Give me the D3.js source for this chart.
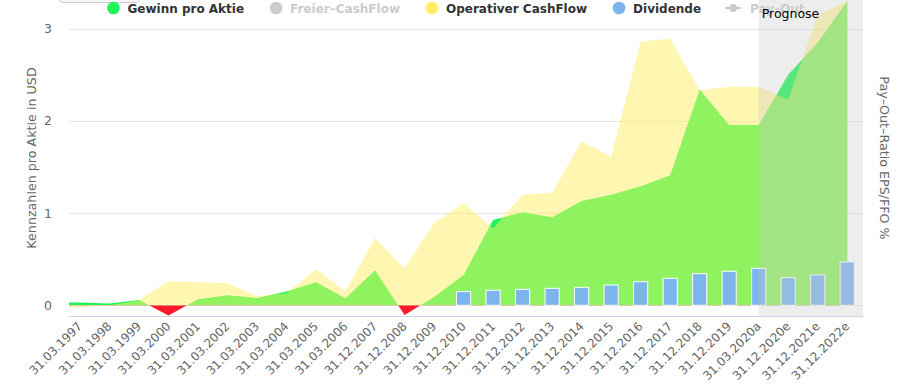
<!DOCTYPE html>
<html>
<head>
<meta charset="utf-8">
<script src="https://cdn.jsdelivr.net/npm/d3@7"></script>
<style>
  body { margin: 0; background: #fff; }
  text { font-family: "DejaVu Sans", sans-serif; }
</style>
</head>
<body>
<div id="chart"></div>
<script>
//categories of the x axis
var categories = [
  "31.03.1997", "31.03.1998", "31.03.1999", "31.03.2000", "31.03.2001",
  "31.03.2002", "31.03.2003", "31.03.2004", "31.03.2005", "31.03.2006",
  "31.12.2007", "31.12.2008", "31.12.2009", "31.12.2010", "31.12.2011",
  "31.12.2012", "31.12.2013", "31.12.2014", "31.12.2015", "31.12.2016",
  "31.12.2017", "31.12.2018", "31.12.2019", "31.03.2020a", "31.12.2020e",
  "31.12.2021e", "31.12.2022e"
];

//Gewinn pro Aktie
var eps = [
  0.03, 0.02, 0.057, -0.11, 0.065, 0.11, 0.08, 0.15, 0.25, 0.076,
  0.38, -0.105, 0.09, 0.33, 0.925, 1.01, 0.955, 1.13, 1.2, 1.29,
  1.41, 2.34, 1.955, 1.955, 2.5, 2.85, 3.3
];

//Operativer CashFlow
var ocf = [
  -0.02, 0.0, 0.055, 0.26, 0.25, 0.24, 0.1, 0.13, 0.39, 0.15,
  0.73, 0.4, 0.89, 1.11, 0.835, 1.2, 1.22, 1.78, 1.61, 2.86,
  2.89, 2.33, 2.37, 2.37, 2.23, 3.15, 3.3
];

//Dividende
var dividend = [
  null, null, null, null, null, null, null, null, null, null,
  null, null, null, 0.148, 0.163, 0.173, 0.184, 0.195, 0.22, 0.256,
  0.293, 0.343, 0.369, 0.4, 0.3, 0.33, 0.47
];

var yTicks = [0, 1, 2, 3];

//legend entries
var legendNames = ["Gewinn pro Aktie", "Freier\u2013CashFlow", "Operativer CashFlow", "Dividende", "Pay\u2013Out"];
var legendHidden = [false, true, false, false, true];

//first forecast category
var forecastStart = "31.03.2020a";

//colours
var colGreen = "rgb(30,245,90)";
var colRed = "#ff1a2b";
var colYellow = "rgb(255,239,99)";
var colBlue = "#7cb5ec";
var legendColors = [colGreen, "#cccccc", "#ffec62", colBlue, "#cccccc"];

var width = 912;
var height = 386;
var plot = { left: 69, right: 863, top: 0, bottom: 316 };

var svg = d3
  .select("#chart")
  .append("svg")
  .attr("width", width)
  .attr("height", height);

//x axis: category index, small padding left of first point
var xMin = -0.37;
var xMax = categories.length - 0.5;
var xScale = d3.scaleLinear().domain([xMin, xMax]).range([plot.left, plot.right - 1]);
var step = xScale(1) - xScale(0);

var yScale = d3.scaleLinear().domain([-0.116, 3.311]).range([plot.bottom, plot.top]);

var defs = svg.append("defs");
defs.append("clipPath").attr("id", "clipPlot").append("rect")
  .attr("x", plot.left).attr("y", plot.top)
  .attr("width", plot.right - plot.left).attr("height", plot.bottom - plot.top);
defs.append("clipPath").attr("id", "clipPos").append("rect")
  .attr("x", plot.left).attr("y", plot.top)
  .attr("width", plot.right - plot.left).attr("height", yScale(0) - plot.top);
defs.append("clipPath").attr("id", "clipNeg").append("rect")
  .attr("x", plot.left).attr("y", yScale(0))
  .attr("width", plot.right - plot.left).attr("height", plot.bottom - yScale(0));

//little button box peeking in at the top
svg.append("rect")
  .attr("x", 59.5).attr("y", -8.5)
  .attr("width", 80).attr("height", 11).attr("rx", 3)
  .attr("fill", "#f7f7f7").attr("stroke", "#cccccc");

//grid lines
svg.selectAll(".grid")
  .data(yTicks)
  .enter()
  .append("line")
  .attr("class", "grid")
  .attr("x1", plot.left).attr("x2", plot.right)
  .attr("y1", function(d) { return Math.round(yScale(d)) + 0.5; })
  .attr("y2", function(d) { return Math.round(yScale(d)) + 0.5; })
  .attr("stroke", "#e6e6e6");

//bottom axis line
svg.append("line")
  .attr("x1", plot.left).attr("x2", plot.right)
  .attr("y1", plot.bottom + 0.5).attr("y2", plot.bottom + 0.5)
  .attr("stroke", "#ccd6eb");

//area series, first value carried to the left plot edge
var toPoints = function(values) {
  var pts = [{ i: xMin, v: values[0] }];
  values.forEach(function(v, i) { pts.push({ i: i, v: v }); });
  return pts;
};

var area = d3.area()
  .x(function(d) { return xScale(d.i); })
  .y0(yScale(0))
  .y1(function(d) { return yScale(d.v); });

var series = svg.append("g").attr("clip-path", "url(#clipPlot)");

series.append("path")
  .datum(toPoints(eps))
  .attr("d", area)
  .attr("fill", colGreen)
  .attr("clip-path", "url(#clipPos)");

series.append("path")
  .datum(toPoints(eps))
  .attr("d", area)
  .attr("fill", colRed)
  .attr("clip-path", "url(#clipNeg)");

series.append("path")
  .datum(toPoints(ocf))
  .attr("d", area)
  .attr("fill", colYellow)
  .attr("fill-opacity", 0.5);

//dividend columns
var barWidth = step * 0.48;
series.selectAll(".bar")
  .data(dividend.map(function(v, i) { return { i: i, v: v }; }).filter(function(d) { return d.v != null; }))
  .enter()
  .append("rect")
  .attr("class", "bar")
  .attr("x", function(d) { return xScale(d.i) - barWidth / 2; })
  .attr("y", function(d) { return yScale(d.v); })
  .attr("width", barWidth)
  .attr("height", function(d) { return yScale(0) - yScale(d.v); })
  .attr("fill", colBlue)
  .attr("stroke", "#ffffff")
  .attr("stroke-width", 1);

//y axis labels
svg.selectAll(".ylabel")
  .data(yTicks)
  .enter()
  .append("text")
  .attr("class", "ylabel")
  .attr("x", 52)
  .attr("y", function(d) { return yScale(d); })
  .attr("dy", "0.36em")
  .attr("text-anchor", "end")
  .attr("fill", "#666666")
  .style("font-size", "12.5px")
  .text(function(d) { return d; });

//x axis labels
svg.selectAll(".xlabel")
  .data(categories)
  .enter()
  .append("text")
  .attr("class", "xlabel")
  .attr("text-anchor", "end")
  .attr("transform", function(d, i) {
    return "translate(" + (xScale(i) + 3) + "," + 327 + ") rotate(-45)";
  })
  .attr("fill", "#666666")
  .style("font-size", "12px")
  .text(function(d) { return d; });

//axis titles
svg.append("text")
  .attr("transform", "translate(" + 36 + "," + (plot.top + plot.bottom) / 2 + ") rotate(-90)")
  .attr("text-anchor", "middle")
  .attr("fill", "#666666")
  .style("font-size", "12.7px")
  .text("Kennzahlen pro Aktie in USD");

svg.append("text")
  .attr("transform", "translate(" + 880 + "," + (plot.top + plot.bottom) / 2 + ") rotate(90)")
  .attr("text-anchor", "middle")
  .attr("fill", "#666666")
  .style("font-size", "12.7px")
  .text("Pay\u2013Out\u2013Ratio EPS/FFO %");

//legend
var legend = svg.append("g");
var cursor = 0;
legendNames.forEach(function(name, k) {
  var isLine = k == legendNames.length - 1;
  var cx = cursor + 7;
  var item = legend.append("g");
  if (isLine) {
    item.append("line")
      .attr("x1", cx - 8).attr("x2", cx + 8)
      .attr("y1", 8).attr("y2", 8)
      .attr("stroke", legendColors[k]).attr("stroke-width", 2);
    item.append("circle").attr("cx", cx).attr("cy", 8).attr("r", 4).attr("fill", legendColors[k]);
  } else {
    item.append("circle").attr("cx", cx).attr("cy", 8).attr("r", 6.3).attr("fill", legendColors[k]);
  }
  var label = item.append("text")
    .attr("x", cx + (isLine ? 17 : 14))
    .attr("y", 13)
    .attr("fill", legendHidden[k] ? "#cccccc" : "#333333")
    .style("font-size", "12px")
    .style("font-weight", "bold")
    .text(name);
  var textEnd = cx + (isLine ? 17 : 14) + label.node().getComputedTextLength();
  cursor = textEnd + 25;
});
var lb = legend.node().getBBox();
legend.attr("transform", "translate(" + (width / 2 - (lb.x + lb.width / 2)) + ",0)");

//forecast band on top
var bandX = xScale(categories.indexOf(forecastStart));
svg.append("rect")
  .attr("x", bandX)
  .attr("y", -2)
  .attr("width", plot.right - bandX)
  .attr("height", plot.bottom + 2)
  .attr("fill", "rgba(200,200,200,0.33)");

svg.append("text")
  .attr("x", bandX + 3)
  .attr("y", 18)
  .attr("fill", "#000000")
  .style("font-size", "12.5px")
  .text("Prognose");
</script>
</body>
</html>
